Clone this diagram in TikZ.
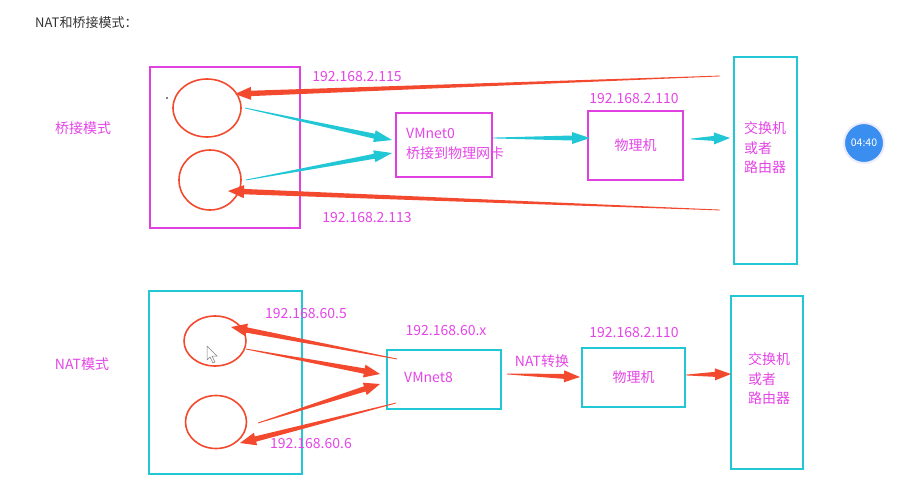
\documentclass[tikz,border=0pt]{standalone}
\usepackage{fontspec}
\setmainfont{Noto Sans CJK SC}
\usepackage{tikz}
\usetikzlibrary{positioning}
\usetikzlibrary{calc}
\usetikzlibrary{shapes.geometric}

\definecolor{magline}{HTML}{E040E0}
\definecolor{magtext}{HTML}{E445E6}
\definecolor{cyanline}{HTML}{22C7D6}
\definecolor{redline}{HTML}{F2492F}
\definecolor{clockblue}{HTML}{3A8EF0}
\definecolor{titlegray}{HTML}{333333}

% tapered arrow: colour, start, tip, shaft half width, head half width, head length
\newcommand{\taperarrow}[6]{%
  \fill[#1] let \p1=($(#3)!#6!(#2)$) in
    ($(#2)!0.4pt!90:(#3)$) -- ($(\p1)!#4!90:(#3)$) -- ($(\p1)!#5!90:(#3)$)
    -- (#3) -- ($(\p1)!#5!-90:(#3)$) -- ($(\p1)!#4!-90:(#3)$)
    -- ($(#2)!0.4pt!-90:(#3)$) -- cycle;}

\tikzset{
  magbox/.style={draw=magline, line width=1.5pt, rectangle, inner sep=0pt},
  cyanbox/.style={draw=cyanline, line width=1.5pt, rectangle, inner sep=0pt},
  vmcircle/.style={draw=redline, line width=1.6pt, ellipse, inner sep=0pt},
  lbl/.style={text=magtext, inner sep=0pt, font=\fontsize{14}{20}\selectfont},
}

\begin{document}
\begin{tikzpicture}[x=1pt, y=-1pt]
    \useasboundingbox (0,0) rectangle (899,490);

    % Title
    \node[anchor=west, inner sep=0pt, text=titlegray, font=\fontsize{13}{15}\selectfont] (title) at (35,23) {NAT和桥接模式：};

    % Bridge mode nodes
    \node[lbl] (bmode) at (83,128) {桥接模式};
    \node[magbox, minimum width=150pt, minimum height=161pt] (bhost) at (225,147.5) {};
    \node[vmcircle, minimum width=68pt, minimum height=58pt] (bvm1) at (207,108) {};
    \node[vmcircle, minimum width=62pt, minimum height=60pt] (bvm2) at (210,180) {};
    \fill (167,98) circle (0.8pt);
    \node[magbox, minimum width=96pt, minimum height=64pt] (vmnet0) at (444,145) {};
    \node[lbl, align=left, anchor=west] (vmnet0txt) at (406,144) {VMnet0\\桥接到物理网卡};
    \node[magbox, lbl, minimum width=95pt, minimum height=69pt] (bpc) at (635.5,145.5) {物理机};
    \node[lbl] (bpcip) at (634,99) {192.168.2.110};
    \node[cyanbox, minimum width=63pt, minimum height=207pt] (bsw) at (765.5,160.5) {};
    \node[lbl, align=left, anchor=west, font=\fontsize{14}{19.5}\selectfont] (bswtxt) at (744,148) {交换机\\或者\\路由器};
    \node[lbl] (ip115) at (357,77) {192.168.2.115};
    \node[lbl] (ip113) at (367,218) {192.168.2.113};

    % Clock badge
    \node[circle, fill=clockblue, draw=blue!8, line width=2pt, minimum size=40pt, text=white, inner sep=0pt, font=\fontsize{10.5}{12}\selectfont] (clock) at (864,143) {04:40};

    % Bridge mode ends
    \coordinate (b115s) at (720,76);
    \coordinate (b115t) at (235,94);
    \coordinate (b113s) at (720,210);
    \coordinate (b113t) at (228,191);
    \coordinate (bc1s) at (245,108);
    \coordinate (bc1t) at (392,140);
    \coordinate (bc2s) at (246,180);
    \coordinate (bc2t) at (392,153);
    \coordinate (bc3s) at (493,138);
    \coordinate (bc3t) at (590,138);
    \coordinate (bc4s) at (691,139);
    \coordinate (bc4t) at (730,138);

    % Bridge mode edges
    \taperarrow{redline}{b115s}{b115t}{2.7pt}{6.5pt}{16pt}
    \taperarrow{redline}{b113s}{b113t}{2.7pt}{6.5pt}{16pt}
    \taperarrow{cyanline}{bc1s}{bc1t}{2.5pt}{6pt}{18pt}
    \taperarrow{cyanline}{bc2s}{bc2t}{2.5pt}{6pt}{18pt}
    \taperarrow{cyanline}{bc3s}{bc3t}{2.5pt}{6pt}{18pt}
    \taperarrow{cyanline}{bc4s}{bc4t}{2.5pt}{6pt}{16pt}

    % NAT mode nodes
    \node[lbl] (nmode) at (82,364) {NAT模式};
    \node[cyanbox, minimum width=153pt, minimum height=183pt] (nhost) at (225.5,382.5) {};
    \node[vmcircle, minimum width=62pt, minimum height=50pt] (nvm1) at (215,341) {};
    \node[vmcircle, minimum width=61pt, minimum height=53pt] (nvm2) at (216,422) {};
    \draw[gray, fill=white, line width=0.5pt] (207,346) -- (207,360) -- (210,357) -- (213,363) -- (215,362) -- (212,356) -- (217,356) -- cycle;
    \node[cyanbox, minimum width=114pt, minimum height=59pt] (vmnet8) at (444,379.5) {};
    \node[lbl, anchor=west] (vmnet8txt) at (404,377) {VMnet8};
    \node[lbl] (vmnet8ip) at (446,331) {192.168.60.x};
    \node[cyanbox, lbl, minimum width=103pt, minimum height=59pt] (npc) at (633.5,377.5) {物理机};
    \node[lbl] (npcip) at (634,333) {192.168.2.110};
    \node[cyanbox, minimum width=72pt, minimum height=173pt] (nsw) at (767,382.5) {};
    \node[lbl, align=left, anchor=west, font=\fontsize{14}{19.5}\selectfont] (nswtxt) at (748,379) {交换机\\或者\\路由器};
    \node[lbl] (ip605) at (306,314) {192.168.60.5};
    \node[lbl] (ip606) at (311,444) {192.168.60.6};
    \node[lbl] (natlbl) at (542,361) {NAT转换};

    % NAT mode ends
    \coordinate (n5s) at (397,359);
    \coordinate (n5t) at (231,327);
    \coordinate (n1s) at (246,349);
    \coordinate (n1t) at (380,374);
    \coordinate (n2s) at (258,423);
    \coordinate (n2t) at (380,384);
    \coordinate (n6s) at (396,403);
    \coordinate (n6t) at (240,443);
    \coordinate (nats) at (507,374);
    \coordinate (natt) at (580,377);
    \coordinate (nsws) at (686,375);
    \coordinate (nswt) at (731,374);

    % NAT mode edges
    \taperarrow{redline}{n5s}{n5t}{2.7pt}{6.5pt}{16pt}
    \taperarrow{redline}{n1s}{n1t}{2.7pt}{6.5pt}{16pt}
    \taperarrow{redline}{n2s}{n2t}{2.7pt}{6.5pt}{16pt}
    \taperarrow{redline}{n6s}{n6t}{2.7pt}{6.5pt}{16pt}
    \taperarrow{redline}{nats}{natt}{2.5pt}{6pt}{16pt}
    \taperarrow{redline}{nsws}{nswt}{2.5pt}{6pt}{16pt}
\end{tikzpicture}
\end{document}
